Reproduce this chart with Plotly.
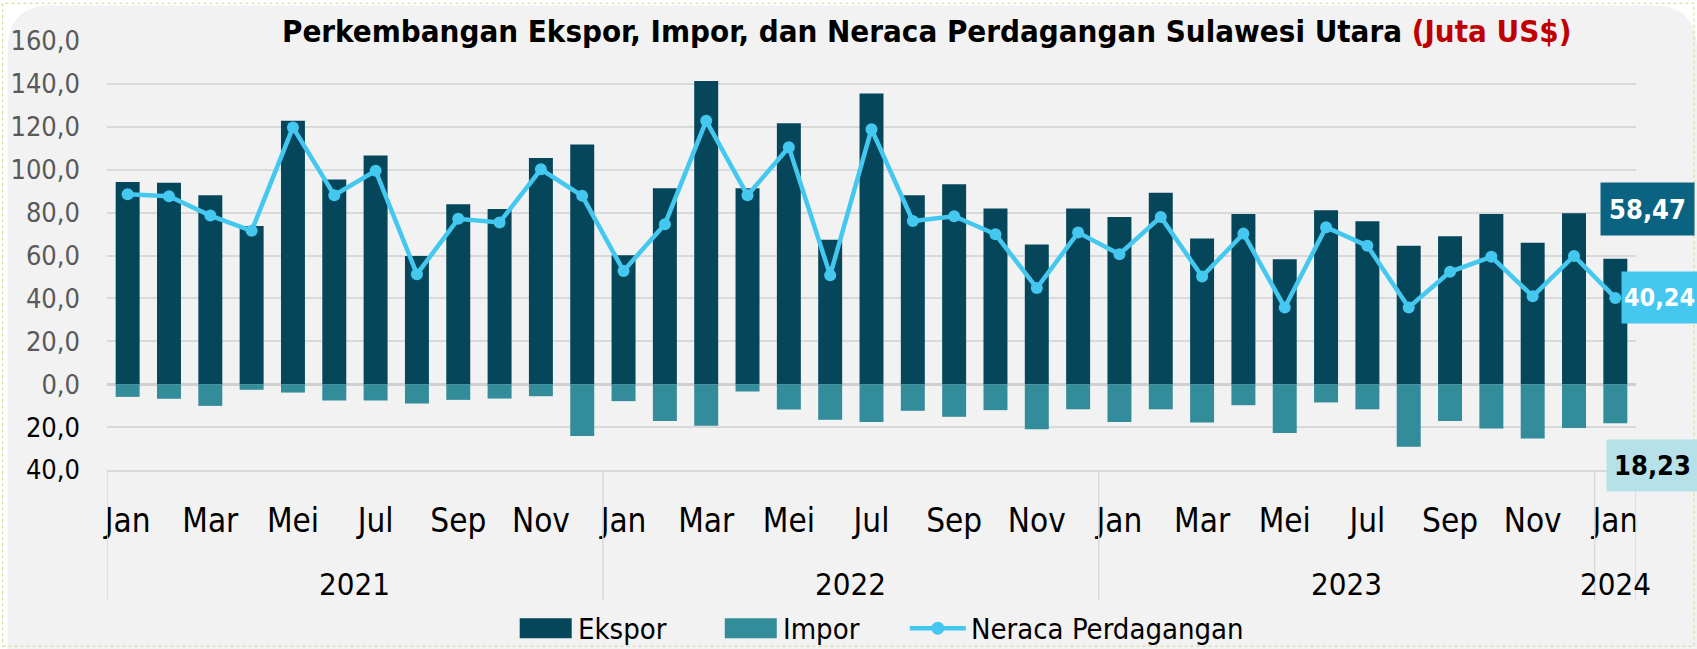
import plotly.graph_objects as go

# ---------------- data ----------------
months = ["Jan", "Feb", "Mar", "Apr", "Mei", "Jun", "Jul", "Agu", "Sep", "Okt", "Nov", "Des"]
years = ["2021", "2022", "2023", "2024"]
categories = [f"{m} {y}" for y in years[:3] for m in months] + ["Jan 2024"]

ekspor = [94.3, 93.9, 88.1, 73.7, 122.8, 95.4, 106.6, 59.8, 83.9, 81.7, 105.4, 111.7,
          60.1, 91.4, 141.4, 91.4, 121.7, 67.4, 135.5, 88.1, 93.2, 81.9, 65.1, 81.9,
          77.9, 89.2, 67.9, 79.4, 58.3, 81.1, 76.0, 64.5, 69.0, 79.4, 66.0, 79.7, 58.47]
impor = [5.9, 6.8, 10.1, 2.6, 3.9, 7.6, 7.6, 9.0, 7.3, 6.7, 5.6, 24.1,
         7.9, 17.1, 19.4, 3.4, 11.8, 16.6, 17.6, 12.4, 15.2, 12.1, 21.0, 11.7,
         17.6, 11.7, 17.9, 9.8, 22.8, 8.5, 11.7, 29.2, 17.1, 20.7, 25.3, 20.4, 18.23]
neraca = [88.6, 87.6, 78.6, 71.5, 119.7, 88.1, 99.5, 51.3, 77.1, 75.4, 100.2, 87.8,
          52.8, 74.6, 122.8, 88.1, 110.5, 50.8, 118.9, 76.1, 78.3, 69.9, 44.8, 70.7,
          60.6, 78.0, 50.2, 70.2, 35.8, 73.2, 64.5, 35.8, 52.4, 59.4, 41.0, 59.8, 40.24]

y_tickvals = [-40, -20, 0, 20, 40, 60, 80, 100, 120, 140, 160]
series_names = ["Ekspor", "Impor", "Neraca Perdagangan"]

# ---------------- styling ----------------
W, H = 1697, 649
L, R, T, B = 107.4, 61, 40.8, 179.2
PW, PH = W - L - R, H - T - B
FONT = "Liberation Sans Narrow, Arial Narrow, DejaVu Sans Condensed, sans-serif"
C_EKS, C_IMP, C_NER = "#05465A", "#338C99", "#45C8F0"


def px(xp):
    return (xp - L) / PW


def py(yp):
    return (H - B - yp) / PH


def fmt(v):
    return f"{v:.2f}".replace(".", ",")


fig = go.Figure()
fig.add_trace(go.Bar(x=categories, y=ekspor, name=series_names[0], marker_color=C_EKS,
                     marker_line_width=0, showlegend=False))
fig.add_trace(go.Bar(x=categories, y=[-v for v in impor], name=series_names[1],
                     marker_color=C_IMP, marker_line_width=0, showlegend=False))
fig.add_trace(go.Scatter(x=categories, y=neraca, name=series_names[2], mode="lines+markers",
                         line=dict(color=C_NER, width=4.5),
                         marker=dict(color=C_NER, size=12), showlegend=False))

ticktext = []
for v in y_tickvals:
    s = f"{abs(v):.1f}".replace(".", ",")
    if v < 0:
        ticktext.append(f"<span style='color:#000000'>{s}</span>")
    else:
        ticktext.append(s)

month_ticks = categories[::2]
month_text = [c.split(" ")[0] for c in month_ticks]

fig.update_layout(
    width=W, height=H,
    margin=dict(l=L, r=R, t=T, b=B, autoexpand=False),
    paper_bgcolor="#FFFFFF",
    plot_bgcolor="rgba(0,0,0,0)",
    barmode="relative",
    bargap=0.42,
    font=dict(family=FONT, size=27, color="#000000"),
    showlegend=False,
    xaxis=dict(type="category", categoryorder="array", categoryarray=categories,
               range=[-0.5, len(categories) - 0.5],
               tickmode="array", tickvals=month_ticks, ticktext=month_text,
               showgrid=False, showline=True, linecolor="#D9D9D9", linewidth=2,
               ticks="", tickfont=dict(size=33, color="#000000"), ticklabelstandoff=20),
    yaxis=dict(range=[-40, 160], tickmode="array", tickvals=y_tickvals, ticktext=ticktext,
               showgrid=True, gridcolor="#D9D9D9", gridwidth=2,
               zeroline=True, zerolinecolor="#D0D0D0", zerolinewidth=2.5,
               showline=False, ticks="", tickfont=dict(size=27, color="#595959"),
               ticklabelstandoff=26),
)

shapes = []
# rounded background panel
r = 45
x0, y0, x1, y1 = 8, 5, 1697, 649
path = (f"M {px(x0)} {py(y0 + r)} Q {px(x0)} {py(y0)} {px(x0 + r)} {py(y0)} "
        f"L {px(x1 - r)} {py(y0)} Q {px(x1)} {py(y0)} {px(x1)} {py(y0 + r)} "
        f"L {px(x1)} {py(y1)} L {px(x0)} {py(y1)} Z")
shapes.append(dict(type="path", xref="paper", yref="paper", path=path,
                   fillcolor="#F2F2F2", line=dict(width=0), layer="below"))
# dotted outer border
shapes.append(dict(type="rect", xref="paper", yref="paper", x0=px(3), x1=px(1694),
                   y0=py(646), y1=py(3), line=dict(color="#C8DC8C", width=1, dash="dot"),
                   layer="below"))
# year separators
for xs in [-0.5, 11.5, 23.5, 35.5, 36.5]:
    shapes.append(dict(type="line", xref="x", yref="paper", x0=xs, x1=xs,
                       y0=0, y1=py(600), line=dict(color="#D9D9D9", width=1.5)))

# custom legend symbols
LEG_Y = 628
shapes.append(dict(type="rect", xref="paper", yref="paper", x0=px(520), x1=px(572),
                   y0=py(638), y1=py(618), fillcolor=C_EKS, line=dict(width=0)))
shapes.append(dict(type="rect", xref="paper", yref="paper", x0=px(725), x1=px(777),
                   y0=py(638), y1=py(618), fillcolor=C_IMP, line=dict(width=0)))
shapes.append(dict(type="line", xref="paper", yref="paper", x0=px(910), x1=px(966),
                   y0=py(LEG_Y), y1=py(LEG_Y), line=dict(color=C_NER, width=4.5)))
shapes.append(dict(type="circle", xref="paper", yref="paper", x0=px(931.5), x1=px(944.5),
                   y0=py(LEG_Y + 6.5), y1=py(LEG_Y - 6.5), fillcolor=C_NER,
                   line=dict(width=0)))
fig.update_layout(shapes=shapes)

ann = []
# legend texts
for name, xl in zip(series_names, [576, 781, 969]):
    ann.append(dict(x=px(xl), xref="paper", y=py(LEG_Y + 1), yref="paper", text=name,
                    showarrow=False, xanchor="left", yanchor="middle",
                    font=dict(size=29, color="#000000")))
# year labels
year_centers = [5.5, 17.5, 29.5, 36]
for yr, xc in zip(years, year_centers):
    ann.append(dict(x=xc, xref="x", y=py(584), yref="paper", text=yr, showarrow=False,
                    font=dict(size=31, color="#000000"), xanchor="center", yanchor="middle"))
# title
ann.append(dict(x=px(927), xref="paper", y=py(31), yref="paper", showarrow=False,
                xanchor="center", yanchor="middle",
                text="<b>Perkembangan Ekspor, Impor, dan Neraca Perdagangan Sulawesi Utara "
                     "<span style='color:#C00000'>(Juta US$)</span></b>",
                font=dict(size=31, color="#000000")))
# last-value boxes
ann.append(dict(x=px(1600), xref="paper", y=py(209), yref="paper", showarrow=False,
                text=f"<b>{fmt(ekspor[-1])}</b>", font=dict(size=27, color="#FFFFFF"),
                bgcolor="#0B6382", borderpad=0, width=93, height=52,
                xanchor="left", yanchor="middle"))
ann.append(dict(x=px(1621), xref="paper", y=py(297.5), yref="paper", showarrow=False,
                text=f"<b>{fmt(neraca[-1])}</b>", font=dict(size=25, color="#FFFFFF"),
                bgcolor=C_NER, borderpad=0, width=75, height=51, align="center",
                xanchor="left", yanchor="middle"))
ann.append(dict(x=px(1606), xref="paper", y=py(465.5), yref="paper", showarrow=False,
                text=f"<b>{fmt(impor[-1])}</b>", font=dict(size=27, color="#000000"),
                bgcolor="#B7E1E8", borderpad=0, width=91, height=51,
                xanchor="left", yanchor="middle"))
fig.update_layout(annotations=ann)

fig.write_html("out.html")
